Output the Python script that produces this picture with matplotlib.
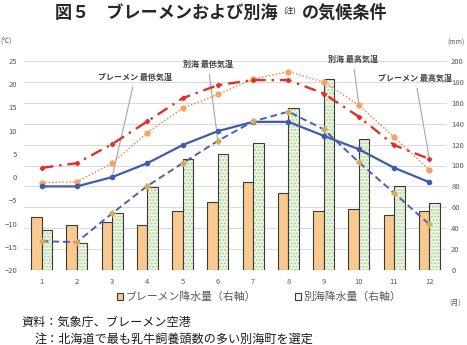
import matplotlib
matplotlib.use("Agg")
import matplotlib.pyplot as plt
from matplotlib.patches import Patch
import numpy as np

plt.rcParams['font.family'] = ['Noto Sans CJK JP', 'DejaVu Sans']

months = [1, 2, 3, 4, 5, 6, 7, 8, 9, 10, 11, 12]
bremen_rain = [51, 43, 46, 43, 56, 65, 84, 74, 56, 58, 53, 56]
betsukai_rain = [38, 26, 55, 79, 106, 111, 122, 155, 183, 125, 80, 64]
bremen_max = [2, 3, 7.1, 12, 17, 19.8, 20.9, 20.9, 18, 13, 6.9, 3.9]
bremen_min = [-2, -2, 0, 3, 6.9, 9.9, 11.9, 11.9, 8.9, 6, 2, -1.1]
betsukai_max = [-1.2, -1, 3, 9.6, 14.8, 17.8, 21.1, 22.7, 20.5, 15.5, 8.6, 1.5]
betsukai_min = [-13.8, -14, -7.8, -1.9, 3, 7.8, 12, 14.1, 10.3, 3.2, -3.4, -10.2]

W, H = 467, 345
fig = plt.figure(figsize=(W / 100, H / 100), dpi=100)
ax = fig.add_axes([24 / W, 1 - 270 / H, 423 / W, 209 / H])
ax2 = ax.twinx()

x = np.array(months)
bw = 0.30
grey = '#595959'

# precipitation bars (right axis)
ax.bar(x - bw / 2, bremen_rain, bw, color='#F9C98F', edgecolor='#3a3a3a', linewidth=0.8, zorder=2)
ax.bar(x + bw / 2, betsukai_rain, bw, color='#F1F7EA', edgecolor='#A9D08E', hatch='.....', linewidth=0, zorder=2)
ax.bar(x + bw / 2, betsukai_rain, bw, fill=False, edgecolor='#3a3a3a', linewidth=0.8, zorder=3)
ax.set_ylim(0, 200)
ax.set_yticks(range(0, 201, 20))
ax.set_xlim(0.5, 12.5)
ax.set_xticks(months)
ax.yaxis.tick_right()
ax.grid(axis='y', color='#d9d9d9', linewidth=0.7, zorder=0)
ax.set_axisbelow(True)

# temperature lines (left axis)
ax2.yaxis.tick_left()
ax2.plot(x, betsukai_max, linestyle=(0, (1, 1.5)), color='#ED7D31', linewidth=1.0,
         marker='o', markersize=3.5, markerfacecolor='#F4A460', markeredgecolor='#F4A460', zorder=4)
ax2.plot(x, bremen_max, linestyle=(0, (5, 2.5, 1, 2.5)), color='#E0302A', linewidth=1.7,
         marker='D', markersize=2.2, zorder=5)
ax2.plot(x, bremen_min, linestyle='-', color='#3F5BA9', linewidth=1.6,
         marker='o', markersize=3, zorder=5)
ax2.plot(x, betsukai_min, linestyle=(0, (3.5, 2)), color='#4A62AA', linewidth=1.4,
         marker='D', markersize=2.8, markerfacecolor='#D2AE5C', markeredgecolor='#D2AE5C', zorder=5)
ax2.set_ylim(-20, 25)
ax2.set_yticks(range(-20, 26, 5))

for a in (ax, ax2):
    for s in a.spines.values():
        s.set_visible(False)
    a.tick_params(length=0, labelsize=5.5, labelcolor=grey)
ax.tick_params(axis='x', pad=6)
ax.tick_params(axis='y', pad=3)
ax2.tick_params(axis='y', pad=5)

# callouts
def callout(text, target, xt, yt):
    ax2.annotate(text, xy=target, xytext=(xt, yt), fontsize=5.8, color='#404040',
                 ha='center', va='center', annotation_clip=False, weight='bold',
                 arrowprops=dict(arrowstyle='-', color='#a6a6a6', linewidth=0.8,
                                 shrinkA=2, shrinkB=0))

callout('ブレーメン 最低気温', (3, bremen_min[2]), 3.65, 21.5)
callout('別海 最低気温', (6, betsukai_min[5]), 5.72, 24.3)
callout('別海 最高気温', (10, betsukai_max[9]), 9.83, 25.4)
callout('ブレーメン 最高気温', (12, bremen_max[11]), 11.6, 21.3)

# unit labels
fig.text(6 / W, 1 - 42 / H, '(℃)', fontsize=5, color=grey, ha='center', va='center')
fig.text(456 / W, 1 - 43 / H, '(mm)', fontsize=5, color=grey, ha='center', va='center')
fig.text(455 / W, 1 - 303 / H, '(月)', fontsize=5, color=grey, ha='center', va='center')

# legend
handles = [Patch(facecolor='#F9C98F', edgecolor='#3a3a3a', linewidth=0.8),
           Patch(facecolor='#F1F7EA', edgecolor='#3a3a3a', linewidth=0.8)]
fig.legend(handles, ['ブレーメン降水量（右軸）', '別海降水量（右軸）'], ncol=2,
           loc='center', bbox_to_anchor=(259 / W, 1 - 297 / H), frameon=False,
           fontsize=7.8, labelcolor=grey, handlelength=0.6, handleheight=0.6,
           handletextpad=0.2, columnspacing=3.6)

# title in pieces so the note mark is small
fig.canvas.draw()
r = fig.canvas.get_renderer()
ty = 1 - 13 / H
t1 = fig.text(55 / W, ty, '図５　ブレーメンおよび別海', fontsize=12.3, weight='bold', color='#262626', va='center')
e = t1.get_window_extent(r)
t2 = fig.text((e.x1 + 6) / W, ty + 0.008, '(注)', fontsize=5.5, color='#262626', va='center')
e = t2.get_window_extent(r)
fig.text((e.x1 + 5) / W, ty, 'の気候条件', fontsize=12.3, weight='bold', color='#262626', va='center')

# footer
fig.text(22 / W, 1 - 322 / H, '資料：気象庁、ブレーメン空港', fontsize=8.7, color='#1a1a1a', va='center')
fig.text(35 / W, 1 - 339 / H, '注：北海道で最も乳牛飼養頭数の多い別海町を選定', fontsize=8.7, color='#1a1a1a', va='center')

fig.savefig('out.png', dpi=100)
